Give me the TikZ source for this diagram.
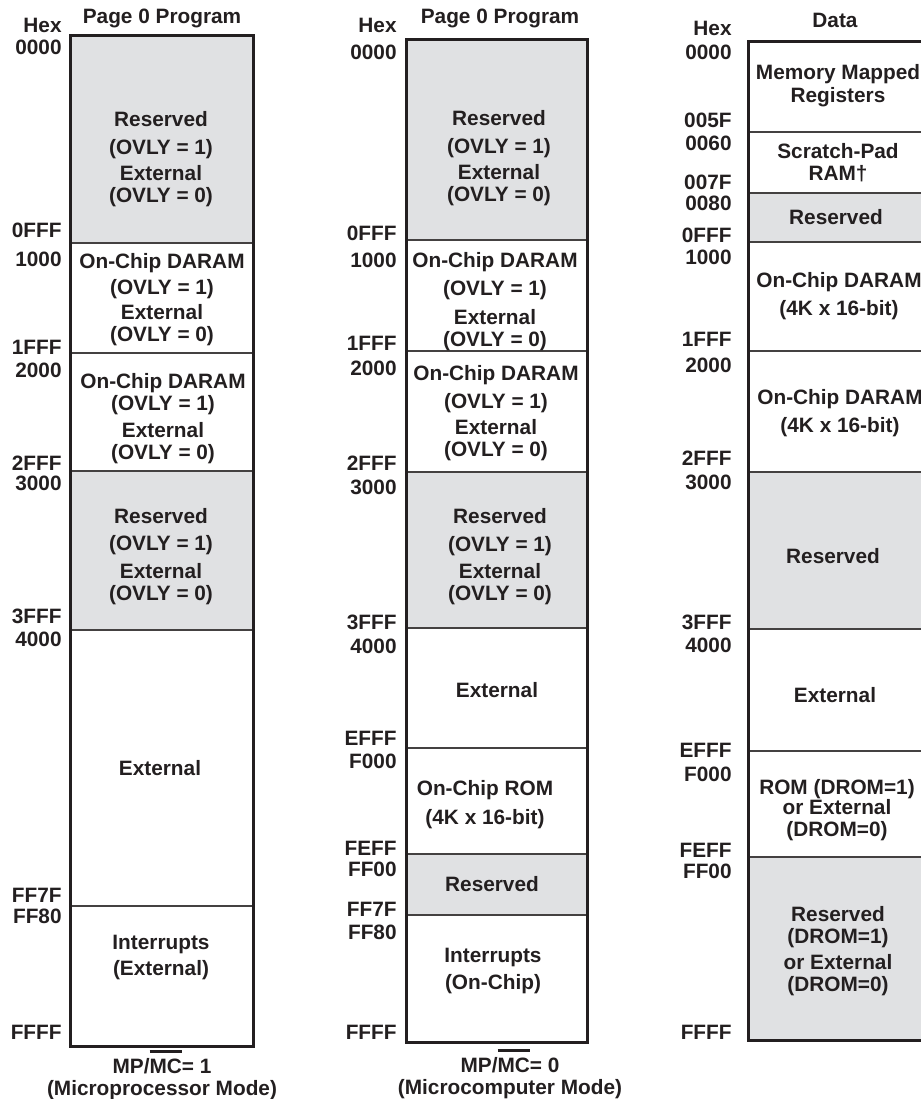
\documentclass[tikz,border=0pt]{standalone}
\usepackage{fontspec}
\setmainfont{Liberation Sans}
\definecolor{resgray}{HTML}{E0E1E3}
\definecolor{inkblk}{HTML}{231F20}
\newcommand{\barMC}[1]{\vbox{\hrule height 1.5pt\kern 3.2pt\hbox{#1}}}

\begin{document}
\begin{tikzpicture}[x=0.5pt,y=-0.5pt,
  every node/.style={font=\fontsize{10.4}{11}\selectfont\bfseries, text=inkblk, inner sep=0pt},
  addr/.style={anchor=east},
  cell/.style={align=center},
  outline/.style={draw=inkblk, line width=1.5pt},
  divline/.style={draw=inkblk!85, line width=0.6pt}]
\useasboundingbox (0,0) rectangle (921,1099);
\clip (0,0) rectangle (921,1099);

% shaded (reserved) areas
\fill[resgray] (70,35) rectangle (253,243);
\fill[resgray] (70,471) rectangle (253,630);
\fill[resgray] (406,39) rectangle (587,240);
\fill[resgray] (406,472) rectangle (587,628);
\fill[resgray] (406,854) rectangle (587,915);
\fill[resgray] (748,193) rectangle (928,242);
\fill[resgray] (748,472) rectangle (928,629);
\fill[resgray] (748,857) rectangle (928,1040);

% boundaries
\foreach \y in {243,353,471,630,906} \draw[divline] (70,\y) -- (253,\y);
\foreach \y in {240,351,472,628,748,854,915} \draw[divline] (406,\y) -- (587,\y);
\foreach \y in {132,193,242,351,472,629,751,857} \draw[divline] (748,\y) -- (928,\y);
\draw[outline] (70,35) rectangle (253,1046);
\draw[outline] (406,39) rectangle (587,1042);
\draw[outline] (748,41) rectangle (928,1040);

% titles
\node (t1) at (162,18) {Page 0 Program};
\node (t2) at (500,18) {Page 0 Program};
\node (t3) at (835,20) {Data};

% addresses
\foreach \y/\t in {25/Hex,47/0000,230/0FFF,259/1000,347/1FFF,370/2000,463/2FFF,483/3000,
                   616/3FFF,639/4000,895/FF7F,916/FF80,1032/FFFF}
  \node[addr] (a1-\t) at (62,\y) {\t};
\foreach \y/\t in {25/Hex,52/0000,233/0FFF,260/1000,343/1FFF,368/2000,463/2FFF,487/3000,
                   622/3FFF,646/4000,738/EFFF,761/F000,848/FEFF,869/FF00,909/FF7F,932/FF80,1032/FFFF}
  \node[addr] (a2-\t) at (397,\y) {\t};
\foreach \y/\t in {28/Hex,52/0000,120/005F,143/0060,182/007F,203/0080,235/0FFF,257/1000,
                   339/1FFF,365/2000,458/2FFF,482/3000,622/3FFF,645/4000,750/EFFF,774/F000,
                   850/FEFF,871/FF00,1032/FFFF}
  \node[addr] (a3-\t) at (732,\y) {\t};

% microprocessor mode
\node[cell] (p1res) at (161,159) {Reserved\\[3pt](OVLY = 1)\\[2pt]External\\(OVLY = 0)};
\node[cell] (p1dar) at (162,300) {On-Chip DARAM\\[2pt](OVLY = 1)\\[1.5pt]External\\(OVLY = 0)};
\node[cell] (p1darb) at (163,419) {On-Chip DARAM\\(OVLY = 1)\\[2.5pt]External\\(OVLY = 0)};
\node[cell] (p1resb) at (161,557) {Reserved\\[2.5pt](OVLY = 1)\\[3pt]External\\(OVLY = 0)};
\node (p1ext) at (160,768) {External};
\node[cell] (p1int) at (161,957) {Interrupts\\[2pt](External)};
\node[cell, anchor=north] (p1mode) at (162,1049.5) {MP/\barMC{MC}= 1\\(Microprocessor Mode)};

% microcomputer mode
\node[cell] (p2res) at (499,158.5) {Reserved\\[3pt](OVLY = 1)\\[2pt]External\\(OVLY = 0)};
\node[cell] (p2dar) at (495,301.5) {On-Chip DARAM\\[3pt](OVLY = 1)\\[3.5pt]External\\(OVLY = 0)};
\node[cell] (p2darb) at (496,413.5) {On-Chip DARAM\\[3pt](OVLY = 1)\\[2pt]External\\(OVLY = 0)};
\node[cell] (p2resb) at (500,557) {Reserved\\[3pt](OVLY = 1)\\[2.5pt]External\\(OVLY = 0)};
\node (p2ext) at (497,690) {External};
\node[cell] (p2rom) at (485,804.5) {On-Chip ROM\\[3.5pt](4K x 16-bit)};
\node (p2resc) at (492,884) {Reserved};
\node[cell] (p2int) at (493,970.5) {Interrupts\\[2.5pt](On-Chip)};
\node[cell, anchor=north] (p2mode) at (510,1048.5) {MP/\barMC{MC}= 0\\(Microcomputer Mode)};

% data space
\node[cell] (dmmr) at (838,85.5) {Memory Mapped\\[0.5pt]Registers};
\node[cell] (dspr) at (838,162.5) {Scratch-Pad\\RAM†};
\node (dres) at (836,217) {Reserved};
\node[cell] (ddar) at (839,296) {On-Chip DARAM\\[3pt](4K x 16-bit)};
\node[cell] (ddarb) at (840,413) {On-Chip DARAM\\[3pt](4K x 16-bit)};
\node (dresb) at (833,556) {Reserved};
\node (dext) at (835,695) {External};
\node[cell] (drom) at (837,810) {ROM (DROM=1)\\[-1pt]or External\\(DROM=0)};
\node[cell] (dresc) at (838,951.5) {Reserved\\(DROM=1)\\[2pt]or External\\(DROM=0)};
\end{tikzpicture}
\end{document}
